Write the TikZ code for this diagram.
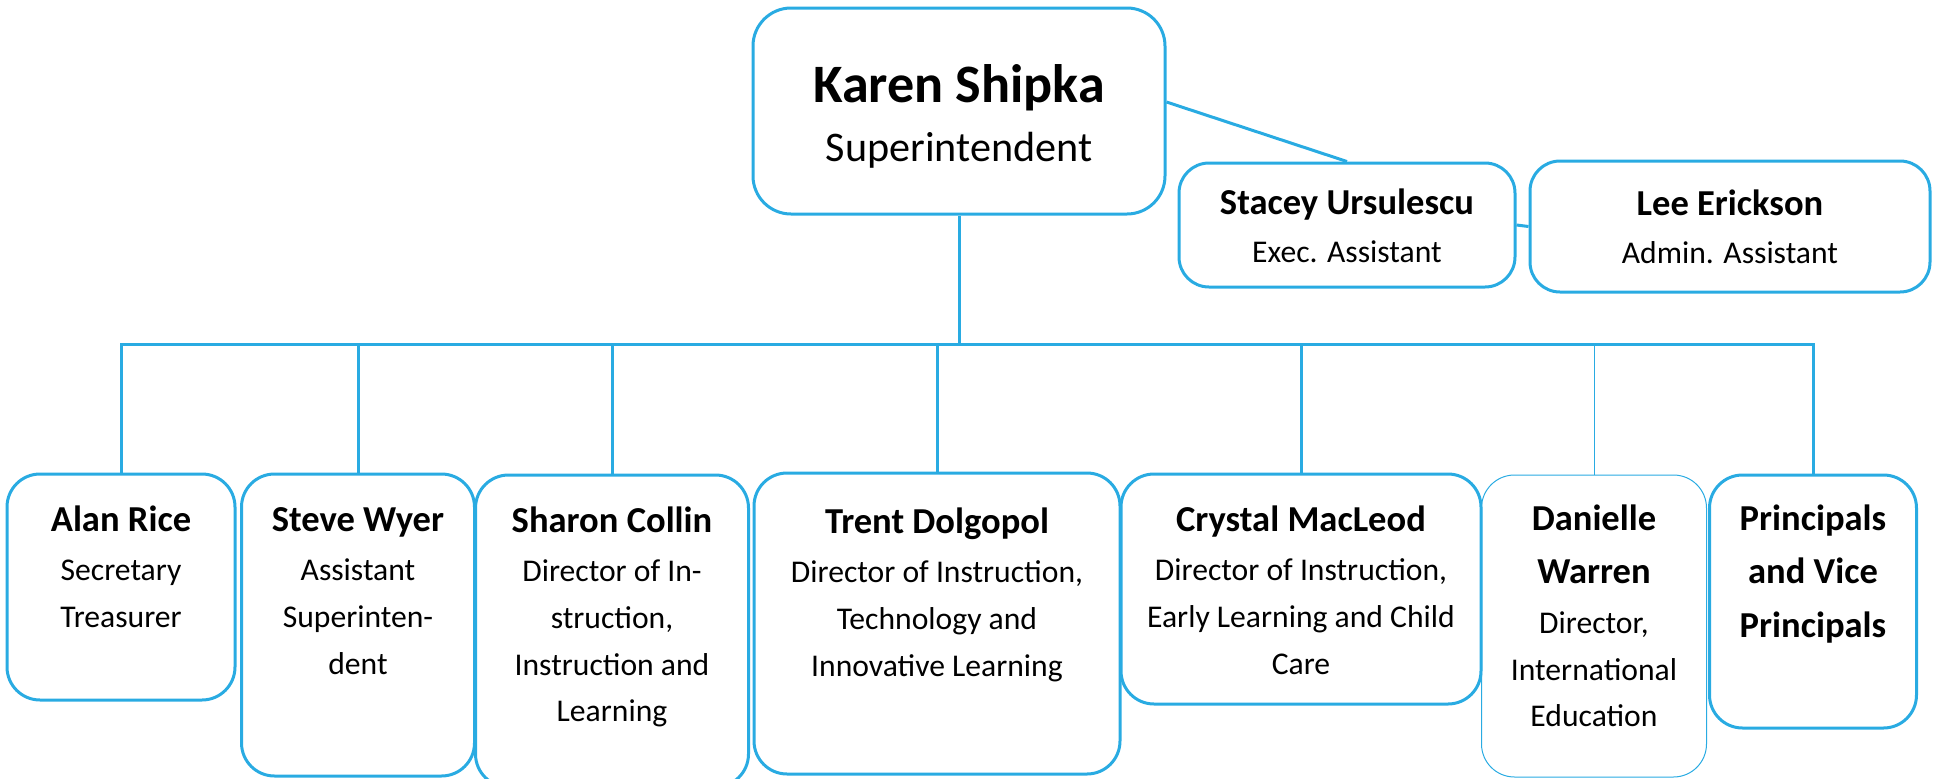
\documentclass[tikz,border=0pt]{standalone}
\usepackage{fontspec}
\setmainfont{Carlito}
\definecolor{orgblue}{RGB}{41,171,226}
\setlength{\tabcolsep}{0pt}
\newcommand{\who}[1]{{\fontsize{10.4}{13.3}\selectfont\bfseries #1}}

\begin{document}
\begin{tikzpicture}[x=0.1mm, y=-0.1mm,
		unit/.style={draw=orgblue, line width=0.3mm, rounded corners=3.3mm, inner sep=0pt, anchor=base, font=\fontsize{9}{13.3}\selectfont},
		link/.style={draw=orgblue, line width=0.3mm}]
%			\draw[help lines] (0,0) grid (1940,778);
			\useasboundingbox (0,0) rectangle (1940,778);
			\node[unit, rounded corners=3.8mm, minimum width=41.2mm, text height=9.4mm, text depth=11.2mm, font=\fontsize{12}{17}\selectfont] (karen) at (959,102) {\begin{tabular}[t]{c} {\fontsize{15.4}{17}\selectfont\bfseries Karen Shipka} \\ Superintendent \end{tabular}};
			\node[unit, rounded corners=3mm, minimum width=33.6mm, text height=5.1mm, text depth=7.3mm, font=\fontsize{9}{13.9}\selectfont] (stacey) at (1347,214) {\begin{tabular}[t]{c} \who{Stacey Ursulescu} \\ Exec. Assistant \end{tabular}};
			\node[unit, rounded corners=3mm, minimum width=40mm, text height=5.4mm, text depth=7.7mm, font=\fontsize{9}{13.9}\selectfont] (lee) at (1730,215) {\begin{tabular}[t]{c} \who{Lee Erickson} \\ Admin. Assistant \end{tabular}};
			\coordinate (bus) at (959,344);
			\node[unit, minimum width=22.8mm, text height=5.7mm, text depth=16.9mm] (alan) at (121,531) {\begin{tabular}[t]{c} \who{Alan Rice} \\[0.8pt] Secretary \\ Treasurer \end{tabular}};
			\node[unit, minimum width=23.3mm, text height=5.7mm, text depth=24.5mm] (steve) at (358,531) {\begin{tabular}[t]{c} \who{Steve Wyer} \\[0.8pt] Assistant \\ Superinten- \\ dent \end{tabular}};
			\node[unit, minimum width=27.3mm, text height=5.7mm, text depth=25.5mm] (sharon) at (612,532) {\begin{tabular}[t]{c} \who{Sharon Collin} \\[0.8pt] Director of In- \\ struction, \\ Instruction and \\ Learning \end{tabular}};
			\node[unit, minimum width=36.6mm, text height=6mm, text depth=24.1mm] (trent) at (937,533) {\begin{tabular}[t]{c} \who{Trent Dolgopol} \\[0.8pt] Director of Instruction, \\ Technology and \\ Innovative Learning \end{tabular}};
			\node[unit, minimum width=36mm, text height=5.7mm, text depth=17.3mm] (crystal) at (1301,531) {\begin{tabular}[t]{c} \who{Crystal MacLeod} \\[0.8pt] Director of Instruction, \\ Early Learning and Child \\ Care \end{tabular}};
			\node[unit, line width=0.1mm, minimum width=22.5mm, text height=5.5mm, text depth=24.7mm] (danielle) at (1594,530) {\begin{tabular}[t]{c} \who{Danielle} \\[2pt] \who{Warren} \\[0.8pt] Director, \\ International \\ Education \end{tabular}};
			\node[unit, minimum width=20.7mm, text height=5.5mm, text depth=19.8mm] (princ) at (1813,530) {\begin{tabular}[t]{c} \who{Principals} \\[2pt] \who{and Vice} \\[2pt] \who{Principals} \end{tabular}};
			\draw[link] ([yshift=0.9mm]karen.east) -- (stacey.north);
			\draw[link] (stacey.east) -- (lee.west);
			\draw[link] (karen.south) -- (bus);
			\draw[link] (alan.north) |- (princ.north |- bus) -- (princ.north);
			\draw[link] (steve.north) -- (steve.north |- bus);
			\draw[link] (sharon.north) -- (sharon.north |- bus);
			\draw[link] (trent.north) -- (trent.north |- bus);
			\draw[link] (crystal.north) -- (crystal.north |- bus);
			\draw[link, line width=0.1mm] (danielle.north) -- (danielle.north |- bus);
		\end{tikzpicture}
\end{document}
